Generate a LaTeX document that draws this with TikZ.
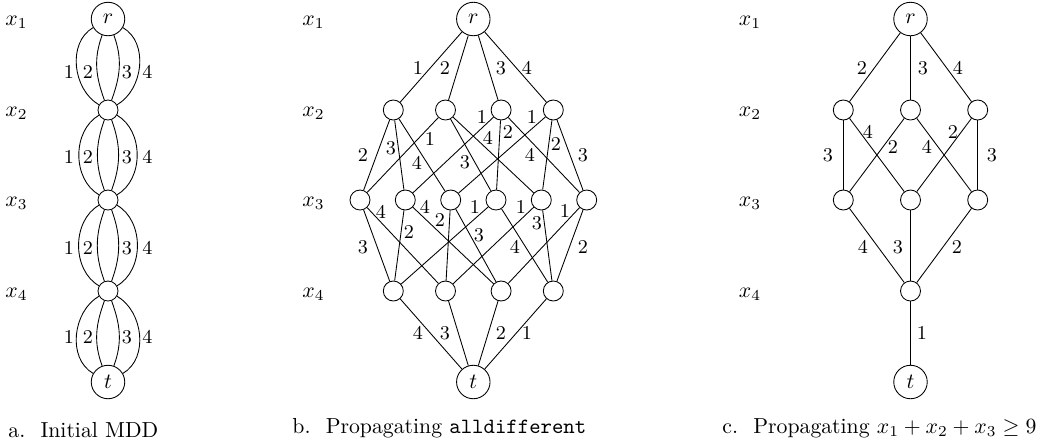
\documentclass[tikz,border=0pt]{standalone}
\begin{document}
\begin{tikzpicture}[x=0.46pt,y=-0.46pt,
  big/.style={circle,draw,minimum size=15.4pt,inner sep=0pt},
  sm/.style={circle,draw,minimum size=9.2pt,inner sep=0pt},
  lab/.style={font=\small,inner sep=0pt},
  var/.style={inner sep=0pt,anchor=base},
  captext/.style={inner sep=0pt,anchor=base west}]
\useasboundingbox (0,0) rectangle (1047,445);

% ---------- a. Initial MDD ----------
\node[big] (a0) at (108,19) {$r$};
\node[sm] (a1) at (108,110) {};
\node[sm] (a2) at (108,200) {};
\node[sm] (a3) at (108,291) {};
\node[big] (a4) at (108,382) {$t$};
\foreach \u/\v/\y in {a0/a1/72, a1/a2/157, a2/a3/248, a3/a4/337} {
  \draw (\u) to[out=210,in=150] (\v) node[lab] at (69,\y) {1};
  \draw (\u) to[out=250,in=110] (\v) node[lab] at (88,\y) {2};
  \draw (\u) to[out=290,in=70] (\v) node[lab] at (127,\y) {3};
  \draw (\u) to[out=330,in=30] (\v) node[lab] at (147.5,\y) {4};
}
\node[var] (ax1) at (16.5,25) {$x_1$};
\node[var] (ax2) at (16.5,116) {$x_2$};
\node[var] (ax3) at (16.5,206) {$x_3$};
\node[var] (ax4) at (16.5,297) {$x_4$};
\node[captext] (capa) at (8,437) {a.\hspace{7pt}Initial MDD};

% ---------- b. alldifferent ----------
\node[big] (b0) at (473.3,19) {$r$};
\node[sm] (b11) at (393.3,110) {};
\node[sm] (b12) at (445.5,110) {};
\node[sm] (b13) at (501.1,110) {};
\node[sm] (b14) at (553.3,110) {};
\node[sm] (b21) at (360,200) {};
\node[sm] (b22) at (405.3,200) {};
\node[sm] (b23) at (450.7,200) {};
\node[sm] (b24) at (496,200) {};
\node[sm] (b25) at (541.3,200) {};
\node[sm] (b26) at (586.7,200) {};
\node[sm] (b31) at (393.3,291) {};
\node[sm] (b32) at (445.5,291) {};
\node[sm] (b33) at (501.1,291) {};
\node[sm] (b34) at (553.3,291) {};
\node[big] (b4) at (473.3,382) {$t$};
\foreach \u/\v/\l/\x/\y in {
  b0/b11/1/418/68, b0/b12/2/445/68, b0/b13/3/501/68, b0/b14/4/527/68,
  b11/b21/2/363/155, b11/b22/3/391/148, b11/b23/4/417/163,
  b12/b21/1/430/139, b12/b24/3/465/162, b12/b25/4/488/138,
  b13/b22/1/482/117, b13/b24/2/508/132, b13/b26/4/530/155,
  b14/b23/1/532/117, b14/b25/2/556/144, b14/b26/3/583/155,
  b21/b32/4/381/212, b21/b31/3/363/247,
  b22/b31/2/409/232, b22/b33/4/425/207,
  b23/b32/2/440/220, b23/b33/3/479/235,
  b24/b31/1/475/207, b24/b34/4/515/247,
  b25/b32/1/521/207, b25/b34/3/537/223,
  b26/b33/1/565/211, b26/b34/2/583/247,
  b31/b4/4/418/333, b32/b4/3/445/333, b33/b4/2/501/333, b34/b4/1/527/333} {
  \draw (\u) -- (\v) node[lab] at (\x,\y) {\l};
}
\node[var] (bx1) at (313.5,25) {$x_1$};
\node[var] (bx2) at (313.5,116) {$x_2$};
\node[var] (bx3) at (313.5,206) {$x_3$};
\node[var] (bx4) at (313.5,297) {$x_4$};
\node[captext] (capb) at (292,433) {b.\hspace{7pt}Propagating \texttt{alldifferent}};

% ---------- c. sum constraint ----------
\node[big] (c0) at (910.5,19) {$r$};
\node[sm] (c11) at (843.3,110) {};
\node[sm] (c12) at (910.5,110) {};
\node[sm] (c13) at (977.7,110) {};
\node[sm] (c21) at (843.3,200) {};
\node[sm] (c22) at (910.5,200) {};
\node[sm] (c23) at (977.7,200) {};
\node[sm] (c3) at (910.5,291) {};
\node[big] (c4) at (910.5,382) {$t$};
\foreach \u/\v/\l/\x/\y in {
  c0/c11/2/862/68, c0/c12/3/923/68, c0/c13/4/958/68,
  c11/c21/3/828/155, c11/c22/4/868/132, c12/c21/2/893/147,
  c12/c23/4/927/147, c13/c22/2/953/132, c13/c23/3/992/155,
  c21/c3/4/863/247, c22/c3/3/898/247, c23/c3/2/957/247,
  c3/c4/1/922/333} {
  \draw (\u) -- (\v) node[lab] at (\x,\y) {\l};
}
\node[var] (cx1) at (750,25) {$x_1$};
\node[var] (cx2) at (750,116) {$x_2$};
\node[var] (cx3) at (750,206) {$x_3$};
\node[var] (cx4) at (750,297) {$x_4$};
\node[captext] (capc) at (722,433) {c.\hspace{7pt}Propagating $x_1+x_2+x_3\geq 9$};
\end{tikzpicture}
\end{document}
